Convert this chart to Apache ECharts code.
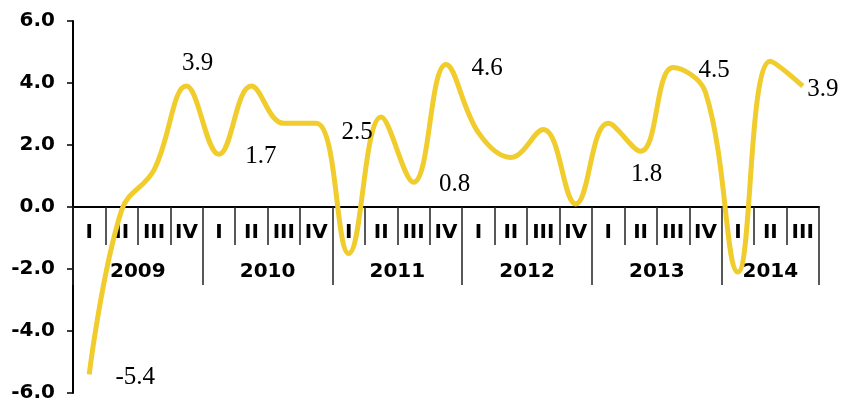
<!DOCTYPE html>
<html>
<head>
<meta charset="utf-8">
<script src="https://cdn.jsdelivr.net/npm/echarts@6/dist/echarts.min.js"></script>
<style>
  html, body { margin: 0; padding: 0; background: #fff; }
  #chart { width: 842px; height: 400px; }
</style>
</head>
<body>
<div id="chart"></div>
<script>
// quarterly values 2009 I .. 2014 III
const quarters = ['I', 'II', 'III', 'IV', 'I', 'II', 'III', 'IV', 'I', 'II', 'III', 'IV',
  'I', 'II', 'III', 'IV', 'I', 'II', 'III', 'IV', 'I', 'II', 'III'];
const values = [-5.4, -0.1, 1.2, 3.9, 1.7, 3.9, 2.7, 2.7, -1.5, 2.9, 0.8, 4.6,
  2.4, 1.6, 2.5, 0.1, 2.7, 1.8, 4.5, 3.7, -2.1, 4.7, 3.9];
const labelText = ['-5.4', '', '', '3.9', '1.7', '', '', '', '', '2.5', '0.8', '4.6',
  '', '', '', '', '', '1.8', '4.5', '', '', '', '3.9'];
const years = ['2009', '2010', '2011', '2012', '2013', '2014'];
const yearStart = [0, 4, 8, 12, 16, 20, 23];

// label offsets relative to the point (layout only)
const labelOffset = {
  0: [46, 3], 3: [11, -23], 4: [42, 2], 9: [-24, 15], 10: [41, 2],
  11: [41, 4], 17: [6, 23], 18: [41, 3], 22: [20, 3]
};

const yearCenters = years.map((y, i) => (yearStart[i] + yearStart[i + 1]) / 2);
const quarterEdges = quarters.map((q, i) => i).concat(quarters.length);

const chart = echarts.init(document.getElementById('chart'));
const axisFont = { fontFamily: 'DejaVu Sans', fontWeight: 'bold', fontSize: 20, color: '#000' };
const tickStyle = { color: '#222', width: 1.5 };

chart.setOption({
  animation: false,
  grid: [
    // main plot
    { left: 73, right: 23, top: 21, bottom: 7, outerBoundsMode: 'none', containLabel: false },
    // band whose bottom edge sits on the zero line, carries the quarter / year axes
    { left: 73, right: 23, top: 21, height: 186, outerBoundsMode: 'none', containLabel: false }
  ],
  xAxis: [
    { type: 'category', gridIndex: 0, data: quarters, boundaryGap: true, show: false },
    {
      // quarter names + the zero line
      type: 'category',
      gridIndex: 1,
      position: 'bottom',
      data: quarters,
      boundaryGap: true,
      axisLine: { onZero: false, lineStyle: { color: '#000', width: 2 } },
      axisTick: { show: false },
      axisLabel: Object.assign({ interval: 0, margin: 16 }, axisFont),
      splitLine: { show: false }
    },
    {
      // short separators between quarters
      type: 'value',
      gridIndex: 1,
      position: 'bottom',
      min: 0,
      max: quarters.length,
      axisLine: { show: false, onZero: false },
      axisTick: { show: true, customValues: quarterEdges, length: 38, lineStyle: tickStyle },
      axisLabel: { show: false },
      splitLine: { show: false }
    },
    {
      // long separators between years + year names
      type: 'value',
      gridIndex: 1,
      position: 'bottom',
      min: 0,
      max: quarters.length,
      axisLine: { show: false, onZero: false },
      axisTick: { show: true, customValues: yearStart, length: 78, lineStyle: tickStyle },
      axisLabel: Object.assign({
        margin: 55,
        customValues: yearCenters,
        formatter: v => years[yearCenters.indexOf(v)] || ''
      }, axisFont),
      splitLine: { show: false }
    }
  ],
  yAxis: [
    {
      type: 'value',
      gridIndex: 0,
      min: -6,
      max: 6,
      interval: 2,
      axisLine: { show: true, onZero: false, lineStyle: { color: '#000', width: 2 } },
      axisTick: { show: true, length: 6, lineStyle: { color: '#000', width: 1.5 } },
      axisLabel: Object.assign({ margin: 18, formatter: v => v.toFixed(1) }, axisFont),
      splitLine: { show: false }
    },
    { type: 'value', gridIndex: 1, min: 0, max: 1, show: false }
  ],
  series: [{
    type: 'line',
    xAxisIndex: 0,
    yAxisIndex: 0,
    smooth: 0.4,
    symbol: 'circle',
    symbolSize: 0.1,
    showAllSymbol: true,
    z: 5,
    lineStyle: { color: '#F0CC2C', width: 5 },
    itemStyle: { color: '#F0CC2C' },
    data: values.map((v, i) => ({
      value: v,
      label: {
        show: labelText[i] !== '',
        position: 'inside',
        offset: labelOffset[i] || [0, 0],
        formatter: labelText[i],
        fontFamily: 'Liberation Serif',
        fontSize: 25,
        color: '#000'
      }
    }))
  }]
});
</script>
</body>
</html>
